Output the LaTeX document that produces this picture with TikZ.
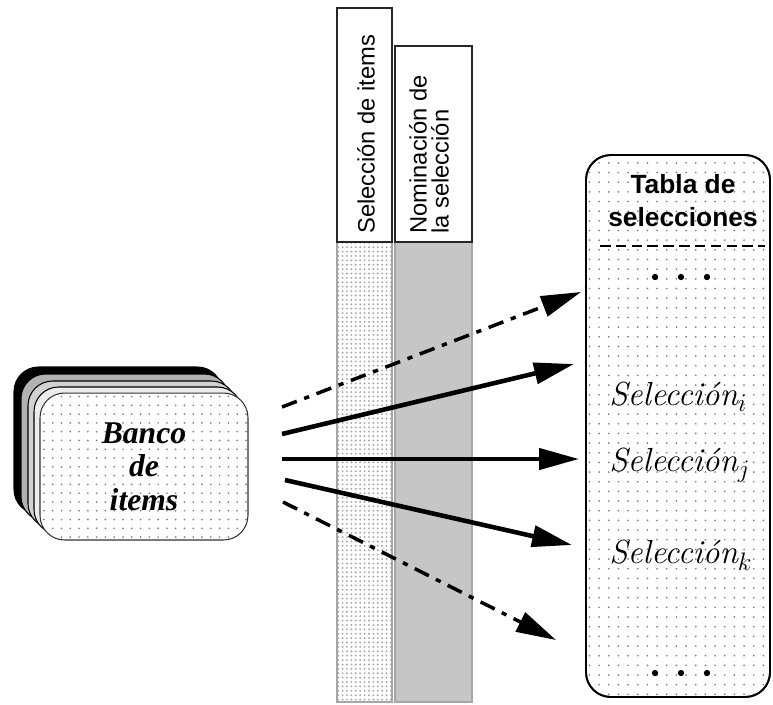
\documentclass[tikz,border=0pt]{standalone}
\usepackage{fontspec}
\newfontfamily\arialfont{Liberation Sans}
\newfontfamily\timesfont{Liberation Serif}
\usetikzlibrary{arrows.meta, patterns.meta}

\begin{document}
\begin{tikzpicture}[x=0.02cm, y=-0.02cm,
    flow/.style={line width=2.6pt, -{Triangle[length=0.8cm, width=0.42cm]}},
    flowdash/.style={flow, line width=2pt, dash pattern=on 9pt off 4.5pt on 3pt off 4.5pt},
    column/.style={draw=gray!70, line width=0.8pt},
    colhead/.style={draw=black!85, fill=white, line width=0.8pt},
    collabel/.style={rotate=90, anchor=west, inner sep=0pt, align=left, font=\arialfont\fontsize{13.5}{12.5}\selectfont},
    layer/.style={rounded corners=14pt, line width=0.6pt},
    bancobox/.style={layer, draw=black!80, pattern={Dots[distance=5pt, radius=0.55pt]}, pattern color=gray,
        minimum width=4.16cm, minimum height=2.94cm, align=center, font=\timesfont\bfseries\itshape\fontsize{18}{19}\selectfont},
    tablebox/.style={draw, line width=1pt, rounded corners=14pt, pattern={Dots[distance=5.5pt, radius=0.55pt]}, pattern color=gray,
        minimum width=3.68cm, minimum height=10.84cm},
    headtext/.style={inner sep=0pt, font=\arialfont\bfseries\fontsize{15}{18}\selectfont},
    seltext/.style={anchor=west, inner sep=0pt, font=\fontsize{19}{22}\selectfont\itshape}]

\useasboundingbox (0,0) rectangle (773,704);

\draw[column, pattern={Dots[distance=2.5pt, radius=0.6pt]}, pattern color=gray!70] (337,242) rectangle (392,702);
\draw[column, fill=gray!45] (395,242) rectangle (472,702);
\draw[colhead] (337,8) rectangle (392,242);
\draw[colhead] (395,46) rectangle (472,242);
\node[collabel] (selitems) at (366,234) {Selección de items};
\node[collabel] (nomina) at (429,234) {Nominación de\\la selección};

\draw[layer, fill=black] (14,367) rectangle (222,514);
\draw[layer, fill=gray!60] (21,374) rectangle (229,521);
\draw[layer, fill=gray!35] (28,381) rectangle (236,528);
\draw[layer, fill=gray!15] (34,387) rectangle (242,534);
\node[bancobox, fill=white] (banco) at (144,466.5) {};
\node[bancobox, draw=none] (bancotxt) at (144,466.5) {Banco\\de\\items};

\node[tablebox, fill=white] (tablabg) at (678,426) {};
\node[tablebox] (tabla) at (678,426) {};
\node[headtext] (head1) at (683,184) {Tabla de};
\node[headtext] (head2) at (683,217) {selecciones};
\draw[line width=0.8pt, dash pattern=on 6pt off 3pt] (600,246) -- (765,246);
\fill (655,277) circle (1.8pt) (681,277) circle (1.8pt) (707,277) circle (1.8pt);
\node[seltext] (seli) at (609,397) {Selección$_i$};
\node[seltext] (selj) at (609,465) {Selección$_j$};
\node[seltext] (selk) at (609,555) {Selección$_k$};
\fill (655,673) circle (1.8pt) (681,673) circle (1.8pt) (707,673) circle (1.8pt);

\coordinate (s1) at (282,407);
\coordinate (s2) at (282,434);
\coordinate (s3) at (282,459);
\coordinate (s4) at (285,480);
\coordinate (s5) at (283,502);
\coordinate (e1) at (581,292);
\coordinate (e2) at (574,364);
\coordinate (e3) at (579,459);
\coordinate (e4) at (572,545);
\coordinate (e5) at (556,640);
\draw[flowdash] (s1) -- (e1);
\draw[flow] (s2) -- (e2);
\draw[flow] (s3) -- (e3);
\draw[flow] (s4) -- (e4);
\draw[flowdash] (s5) -- (e5);
\end{tikzpicture}
\end{document}
